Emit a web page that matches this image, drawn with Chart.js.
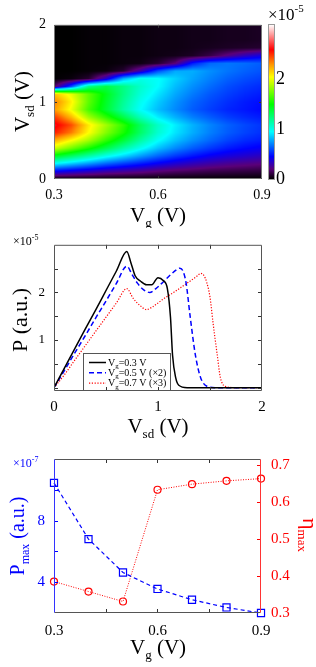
<!DOCTYPE html>
<html>
<head>
<meta charset="utf-8">
<script src="https://cdn.jsdelivr.net/npm/chart.js@4.4.1/dist/chart.umd.min.js"></script>
<style>
html,body{margin:0;padding:0;background:#fff;}
body{width:316px;height:667px;position:relative;overflow:hidden;}
canvas{position:absolute;left:0;}
</style>
</head>
<body>
<canvas id="c1" width="316" height="228" style="top:0px;width:316px;height:228px"></canvas>
<canvas id="c2" width="316" height="212" style="top:228px;width:316px;height:212px"></canvas>
<canvas id="c3" width="316" height="227" style="top:440px;width:316px;height:227px"></canvas>
<script>
// ================= DATA =================
// Panel 1: heat map P(Vg, Vsd) in units of 1e-5 (one row per Vg, one value per Vsd)
const heatVg  = [0.30,0.35,0.40,0.45,0.50,0.55,0.60,0.65,0.70,0.75,0.80,0.85,0.90];
const heatVsd = [0,0.1,0.2,0.3,0.4,0.5,0.6,0.7,0.8,0.9,1.0,1.1,1.2,1.3,1.4,1.5,1.6,1.7,1.8,1.9,2.0];
const heatP = [
  [0,0.45,0.95,1.45,1.95,2.25,2.55,2.65,2.50,2.30,2.35,2.20,0.15,0,0,0,0,0,0,0,0],
  [0,0.40,0.85,1.30,1.75,2.05,2.35,2.45,2.22,2.02,2.08,2.00,0.60,0.02,0,0,0,0,0,0,0],
  [0,0.35,0.75,1.15,1.55,1.85,2.05,2.10,1.85,1.65,1.70,1.70,1.20,0.08,0.01,0.01,0.01,0.01,0.01,0.01,0.01],
  [0,0.30,0.65,1.00,1.35,1.60,1.78,1.85,1.60,1.40,1.42,1.45,1.35,0.35,0.02,0.01,0.01,0.01,0.01,0.01,0.01],
  [0,0.27,0.57,0.88,1.15,1.38,1.55,1.60,1.35,1.15,1.18,1.22,1.22,0.80,0.08,0.02,0.02,0.02,0.02,0.02,0.02],
  [0,0.24,0.50,0.76,0.98,1.15,1.28,1.30,1.10,0.95,0.98,1.03,1.06,1.00,0.30,0.03,0.02,0.02,0.02,0.02,0.02],
  [0,0.20,0.43,0.65,0.83,0.96,1.05,1.07,0.92,0.82,0.85,0.90,0.95,0.96,0.60,0.08,0.03,0.03,0.03,0.03,0.03],
  [0,0.17,0.37,0.56,0.72,0.83,0.90,0.92,0.80,0.72,0.74,0.78,0.82,0.86,0.78,0.20,0.04,0.03,0.03,0.03,0.03],
  [0,0.15,0.32,0.49,0.63,0.73,0.79,0.80,0.70,0.63,0.65,0.69,0.73,0.77,0.79,0.50,0.06,0.04,0.04,0.04,0.04],
  [0,0.13,0.28,0.43,0.56,0.65,0.70,0.71,0.63,0.57,0.59,0.62,0.66,0.70,0.73,0.65,0.12,0.05,0.04,0.04,0.04],
  [0,0.12,0.25,0.39,0.50,0.58,0.63,0.64,0.57,0.52,0.54,0.57,0.60,0.64,0.68,0.68,0.22,0.06,0.05,0.05,0.05],
  [0,0.11,0.23,0.36,0.46,0.53,0.58,0.59,0.53,0.49,0.50,0.53,0.56,0.60,0.64,0.66,0.32,0.07,0.05,0.05,0.05],
  [0,0.10,0.21,0.33,0.43,0.50,0.54,0.55,0.50,0.46,0.47,0.50,0.53,0.57,0.61,0.63,0.40,0.08,0.06,0.06,0.06]
];
const heatXTicks = [0.3,0.6,0.9];
const heatYTicks = [0,1,2];
const cbTicks = [0,1,2];
const cbMax = 3.1;

// Panel 2: P vs Vsd curves (units 1e-5)
const vsdA = [0,0.1,0.2,0.3,0.4,0.5,0.6,0.7,0.74,0.78,0.83,0.89,0.94,1.0,1.05,1.09,1.12,1.14,1.17,1.2,1.28,1.5,2.0];
const pA   = [0,0.41,0.82,1.23,1.63,2.04,2.45,2.86,2.62,2.35,2.24,2.16,2.16,2.31,2.25,2.08,1.48,0.68,0.21,0.05,0,0,0];
const vsdB = [0,0.1,0.2,0.3,0.4,0.5,0.6,0.7,0.75,0.8,0.86,0.92,0.98,1.05,1.12,1.18,1.21,1.24,1.27,1.31,1.36,1.41,1.47,1.55,2.0];
const pB   = [0,0.36,0.73,1.09,1.46,1.82,2.19,2.55,2.38,2.2,2.06,2.0,2.08,2.22,2.37,2.48,2.51,2.45,2.2,1.48,0.68,0.21,0.03,0,0];
const vsdC = [0,0.1,0.2,0.3,0.4,0.5,0.6,0.7,0.76,0.83,0.89,0.95,1.05,1.15,1.25,1.33,1.38,1.41,1.44,1.47,1.5,1.53,1.57,1.6,1.66,1.75,2.0];
const pC   = [0,0.27,0.58,0.88,1.18,1.48,1.78,2.08,1.88,1.72,1.64,1.7,1.86,2.0,2.15,2.27,2.35,2.4,2.36,2.2,1.9,1.35,0.68,0.21,0.02,0,0];
const lineNames = ['Vg=0.3 V','Vg=0.5 V (×2)','Vg=0.7 V (×3)'];
const legendRest = ['=0.3 V','=0.5 V (×2)','=0.7 V (×3)'];
const lineXTicks = [0,1,2];
const lineYTicks = [1,2];
const lineXMarks = [0.5,1,1.5];
const lineYMarks = [0,0.5,1,1.5,2,2.5];

// Panel 3: Pmax (1e-7) and eta_max vs Vg
const vgMax  = [0.3,0.4,0.5,0.6,0.7,0.8,0.9];
const pMax   = [10.45,6.8,4.63,3.56,2.86,2.36,2.0];
const etaMax = [0.385,0.358,0.331,0.633,0.648,0.657,0.663];
const maxXTicks = [0.3,0.6,0.9];
const pMaxTicks = [4,8];
const etaTicks = [0.3,0.4,0.5,0.6,0.7];
const maxXMarks = [0.45,0.6,0.75];
const pMaxMarks = [4,6,8,10];
const etaMarks = [0.4,0.5,0.6,0.7];

// ================= STYLE / HELPERS =================
const FONT = '"Liberation Serif", "Times New Roman", serif';
Chart.defaults.font.family = FONT;
Chart.defaults.color = '#000';
Chart.defaults.animation = false;

const cmap = [
  [0.00,[0,0,0]],[0.20,[90,0,120]],[0.45,[0,0,255]],[0.95,[0,255,255]],
  [1.50,[0,255,0]],[2.05,[255,255,0]],[2.30,[255,150,0]],[2.60,[255,0,0]],[3.10,[255,255,255]]
];
function cmapRGB(v){
  if (v <= cmap[0][0]) return cmap[0][1];
  for (let i=1;i<cmap.length;i++){
    if (v <= cmap[i][0]){
      const a=cmap[i-1], b=cmap[i], t=(v-a[0])/(b[0]-a[0]);
      return [0,1,2].map(k=>Math.round(a[1][k]+(b[1][k]-a[1][k])*t));
    }
  }
  return cmap[cmap.length-1][1];
}
function richText(ctx, it){
  ctx.save();
  ctx.translate(it.x, it.y);
  if (it.rot) ctx.rotate(it.rot);
  ctx.fillStyle = it.color || '#000';
  ctx.textBaseline = 'alphabetic';
  ctx.textAlign = 'left';
  let total = 0;
  const ws = it.parts.map(p=>{ ctx.font = p[1]+'px '+FONT; const w = ctx.measureText(p[0]).width; total += w; return w; });
  let cx = it.align==='center' ? -total/2 : (it.align==='right' ? -total : 0);
  it.parts.forEach((p,i)=>{ ctx.font = p[1]+'px '+FONT; ctx.fillText(p[0], cx, p[2]||0); cx += ws[i]; });
  ctx.restore();
}
const setTicks = arr => (s => { s.ticks = arr.map(v=>({value:v})); });

// grid position (fractional index) of a value along an evenly spaced axis array
function gridPos(arr, v){
  const f = (v-arr[0])/(arr[1]-arr[0]);
  return Math.max(0, Math.min(arr.length-1, f));
}
const heatPlugin = {
  id:'heat',
  beforeDatasetsDraw(chart){
    const xs=chart.scales.x, ys=chart.scales.y, a=chart.chartArea, ctx=chart.ctx;
    const L=Math.round(a.left), T=Math.round(a.top);
    const W=Math.round(a.right)-L, H=Math.round(a.bottom)-T;
    const nc=heatVg.length, nr=heatVsd.length;
    const img=ctx.createImageData(W,H);
    for (let py=0; py<H; py++){
      const fr=gridPos(heatVsd, ys.getValueForPixel(T+py+0.5));
      const j0=Math.min(nr-2,Math.floor(fr)), tj=fr-j0;
      for (let px=0; px<W; px++){
        const fc=gridPos(heatVg, xs.getValueForPixel(L+px+0.5));
        const i0=Math.min(nc-2,Math.floor(fc)), ti=fc-i0;
        const v=(heatP[i0][j0]*(1-ti)+heatP[i0+1][j0]*ti)*(1-tj)+(heatP[i0][j0+1]*(1-ti)+heatP[i0+1][j0+1]*ti)*tj;
        const c=cmapRGB(v); const k=(py*W+px)*4;
        img.data[k]=c[0]; img.data[k+1]=c[1]; img.data[k+2]=c[2]; img.data[k+3]=255;
      }
    }
    ctx.putImageData(img,L,T);
  }
};
const colorbarPlugin = {
  id:'colorbar',
  afterDraw(chart, args, opts){
    const s=chart.scales.cb, ctx=chart.ctx;
    const yTop=Math.round(s.getPixelForValue(s.max)), yBot=Math.round(s.getPixelForValue(s.min));
    ctx.save();
    for (let py=yTop; py<yBot; py++){
      const c=cmapRGB(s.getValueForPixel(py+0.5));
      ctx.fillStyle='rgb('+c.join(',')+')';
      ctx.fillRect(opts.x, py, opts.w, 1);
    }
    ctx.strokeStyle='#999'; ctx.lineWidth=1;
    ctx.strokeRect(opts.x-0.5, yTop-0.5, opts.w+1, yBot-yTop+1);
    ctx.restore();
  }
};
const framePlugin = {
  id:'frame',
  afterDatasetsDraw(chart, args, opts){
    const ctx=chart.ctx, a=chart.chartArea;
    ctx.save(); ctx.lineWidth=1; ctx.setLineDash([]);
    (opts.marks||[]).forEach(m=>{
      const s=chart.scales[m.scale];
      ctx.strokeStyle=m.color;
      m.values.forEach(v=>{
        const p=Math.round(s.getPixelForValue(v))+0.5;
        m.sides.forEach(side=>{
          ctx.beginPath();
          if (side==='bottom'){ctx.moveTo(p,a.bottom);ctx.lineTo(p,a.bottom-m.len);}
          if (side==='top'){ctx.moveTo(p,a.top);ctx.lineTo(p,a.top+m.len);}
          if (side==='left'){ctx.moveTo(a.left,p);ctx.lineTo(a.left+m.len,p);}
          if (side==='right'){ctx.moveTo(a.right,p);ctx.lineTo(a.right-m.len,p);}
          ctx.stroke();
        });
      });
    });
    const b=opts.border, L=a.left+0.5, R=a.right-0.5, T=a.top+0.5, B=a.bottom-0.5;
    [[L,T,R,T,b.top],[L,B,R,B,b.bottom],[L,T,L,B,b.left],[R,T,R,B,b.right]].forEach(l=>{
      ctx.strokeStyle=l[4]; ctx.beginPath(); ctx.moveTo(l[0],l[1]); ctx.lineTo(l[2],l[3]); ctx.stroke();
    });
    ctx.restore();
  }
};
const textPlugin = {
  id:'texts',
  afterDraw(chart, args, opts){ (opts.items||[]).forEach(it=>richText(chart.ctx,it)); }
};
const legendPlugin = {
  id:'boxLegend',
  afterDatasetsDraw(chart, args, opts){
    const ctx=chart.ctx, a=chart.chartArea;
    const x0=a.left+opts.dx, y1=a.bottom, y0=y1-opts.h;
    ctx.save();
    ctx.fillStyle='#fff'; ctx.fillRect(x0,y0,opts.w,opts.h);
    ctx.strokeStyle='#555'; ctx.lineWidth=1; ctx.strokeRect(x0+0.5,y0+0.5,opts.w-1,opts.h-1);
    chart.data.datasets.forEach((ds,i)=>{
      const ly=y0+opts.firstY+i*opts.rowH;
      ctx.strokeStyle=ds.borderColor; ctx.lineWidth=ds.borderWidth; ctx.setLineDash(ds.borderDash||[]);
      ctx.beginPath(); ctx.moveTo(x0+6,ly); ctx.lineTo(x0+23,ly); ctx.stroke();
      ctx.setLineDash([]);
      richText(ctx,{x:x0+25,y:ly+3,parts:[['V',10],['g',7,2.5],[legendRest[i],10]]});
    });
    ctx.restore();
  }
};
const noGrid = {display:false, drawTicks:false};
const noBorder = {display:false};

// ================= PANEL 1 =================
new Chart(document.getElementById('c1'), {
  type:'scatter',
  data:{datasets:[]},
  options:{
    responsive:false, devicePixelRatio:1, animation:false,
    layout:{padding:{top:24,left:0,right:0,bottom:0}},
    plugins:{
      legend:{display:false}, tooltip:{enabled:false},
      colorbar:{x:269,w:5},
      frame:{marks:[{scale:'x',values:[0.6],sides:['bottom','top'],color:'#333',len:3},
                    {scale:'y',values:[1],sides:['left','right'],color:'#333',len:3}],
             border:{top:'#777',bottom:'#777',left:'#777',right:'#777'}},
      texts:{items:[
        {parts:[['V',21],['sd',13,5],[' (V)',21]],x:28.5,y:101.5,rot:-Math.PI/2,align:'center'},
        {parts:[['V',21],['g',13,5],[' (V)',21]],x:158,y:222,align:'center'},
        {parts:[['×10',17],['-5',11,-8]],x:268,y:20,align:'left'}
      ]}
    },
    scales:{
      x:{type:'linear',min:0.3,max:0.9,position:'bottom',grid:noGrid,border:noBorder,
         afterBuildTicks:setTicks(heatXTicks),afterFit:s=>{s.height=49;},
         ticks:{font:{size:14},padding:8,maxRotation:0,autoSkip:false,callback:v=>v.toFixed(1)}},
      y:{type:'linear',min:0,max:2,position:'left',grid:noGrid,border:noBorder,
         afterBuildTicks:setTicks(heatYTicks),afterFit:s=>{s.width=54;},
         ticks:{font:{size:14},padding:8,autoSkip:false,callback:v=>String(v)}},
      cb:{type:'linear',min:0,max:cbMax,position:'right',grid:noGrid,border:noBorder,
         afterBuildTicks:setTicks(cbTicks),afterFit:s=>{s.width=54;},
         ticks:{font:{size:18},padding:14,autoSkip:false,callback:v=>String(v)}}
    }
  },
  plugins:[heatPlugin,framePlugin,textPlugin,colorbarPlugin]
});

// ================= PANEL 2 =================
const mk = (xs,ys)=>xs.map((x,i)=>({x:x,y:ys[i]}));
new Chart(document.getElementById('c2'), {
  type:'line',
  data:{datasets:[
    {label:lineNames[0],data:mk(vsdA,pA),borderColor:'#000000',borderWidth:1.5,pointRadius:0,cubicInterpolationMode:'monotone',fill:false},
    {label:lineNames[1],data:mk(vsdB,pB),borderColor:'#0000ff',borderWidth:1.5,borderDash:[5,3],pointRadius:0,cubicInterpolationMode:'monotone',fill:false},
    {label:lineNames[2],data:mk(vsdC,pC),borderColor:'#ff0000',borderWidth:1.2,borderDash:[1.2,1.6],pointRadius:0,cubicInterpolationMode:'monotone',fill:false}
  ]},
  options:{
    responsive:false, devicePixelRatio:1, animation:false,
    layout:{padding:{top:9,left:0,right:54,bottom:0}},
    plugins:{
      legend:{display:false}, tooltip:{enabled:false},
      boxLegend:{dx:29,w:88,h:38,firstY:9.5,rowH:10.3},
      frame:{marks:[{scale:'x',values:lineXMarks,sides:['bottom','top'],color:'#333',len:4},
                    {scale:'y',values:lineYMarks,sides:['left','right'],color:'#333',len:4}],
             border:{top:'#555',bottom:'#555',left:'#555',right:'#555'}},
      texts:{items:[
        {parts:[['P (a.u.)',22]],x:27,y:92,rot:-Math.PI/2,align:'center'},
        {parts:[['V',21],['sd',13,5],[' (V)',21]],x:158,y:205,align:'center'},
        {parts:[['×10',12],['-5',8,-5]],x:13,y:17,align:'left'}
      ]}
    },
    scales:{
      x:{type:'linear',min:0,max:2,position:'bottom',grid:noGrid,border:noBorder,
         afterBuildTicks:setTicks(lineXTicks),afterFit:s=>{s.height=49;},
         ticks:{font:{size:15},padding:7,maxRotation:0,autoSkip:false,callback:v=>String(v)}},
      y:{type:'linear',min:-0.07,max:3.0,position:'left',grid:noGrid,border:noBorder,
         afterBuildTicks:setTicks(lineYTicks),afterFit:s=>{s.width=54;},
         ticks:{font:{size:13},padding:9,autoSkip:false,callback:v=>String(v)}}
    }
  },
  plugins:[legendPlugin,framePlugin,textPlugin]
});

// ================= PANEL 3 =================
new Chart(document.getElementById('c3'), {
  type:'line',
  data:{datasets:[
    {label:'Pmax',data:mk(vgMax,pMax),yAxisID:'y',borderColor:'#0000ff',borderWidth:1.2,borderDash:[4,3],
     pointStyle:'rect',pointRadius:5,pointBorderWidth:1.2,pointBorderColor:'#0000ff',pointBackgroundColor:'rgba(0,0,0,0)',tension:0,clip:false,fill:false},
    {label:'eta',data:mk(vgMax,etaMax),yAxisID:'y2',borderColor:'#ff0000',borderWidth:1,borderDash:[1,1.5],
     pointStyle:'circle',pointRadius:3.5,pointBorderWidth:1.2,pointBorderColor:'#ff0000',pointBackgroundColor:'rgba(0,0,0,0)',tension:0,clip:false,fill:false}
  ]},
  options:{
    responsive:false, devicePixelRatio:1, animation:false,
    layout:{padding:{top:19,left:0,right:0,bottom:0}},
    plugins:{
      legend:{display:false}, tooltip:{enabled:false},
      frame:{marks:[{scale:'x',values:maxXMarks,sides:['bottom','top'],color:'#333',len:4},
                    {scale:'y',values:pMaxMarks,sides:['left'],color:'#0000ff',len:4},
                    {scale:'y2',values:etaMarks,sides:['right'],color:'#ff0000',len:4}],
             border:{top:'#555',bottom:'#555',left:'#3333ff',right:'#ff3333'}},
      texts:{items:[
        {parts:[['P',20],['max',12,5],[' (a.u.)',20]],x:23.5,y:96,rot:-Math.PI/2,align:'center',color:'#0000ff'},
        {parts:[['η',22],['max',13,5]],x:303,y:95,rot:Math.PI/2,align:'center',color:'#ff0000'},
        {parts:[['V',21],['g',13,5],[' (V)',21]],x:158,y:214,align:'center'},
        {parts:[['×10',12],['-7',8,-5]],x:13,y:27,align:'left',color:'#0000ff'}
      ]}
    },
    scales:{
      x:{type:'linear',min:0.3,max:0.9,position:'bottom',grid:noGrid,border:noBorder,
         afterBuildTicks:setTicks(maxXTicks),afterFit:s=>{s.height=54;},
         ticks:{font:{size:15},padding:9,maxRotation:0,autoSkip:false,callback:v=>v.toFixed(1)}},
      y:{type:'linear',min:2,max:12,position:'left',grid:noGrid,border:noBorder,
         afterBuildTicks:setTicks(pMaxTicks),afterFit:s=>{s.width=54;},
         ticks:{font:{size:15},padding:9,color:'#0000ff',autoSkip:false,callback:v=>String(v)}},
      y2:{type:'linear',min:0.3,max:0.716,position:'right',grid:noGrid,border:noBorder,
         afterBuildTicks:setTicks(etaTicks),afterFit:s=>{s.width=55;},
         ticks:{font:{size:15},padding:10,color:'#ff0000',autoSkip:false,callback:v=>v.toFixed(1)}}
    }
  },
  plugins:[framePlugin,textPlugin]
});
</script>
</body>
</html>
